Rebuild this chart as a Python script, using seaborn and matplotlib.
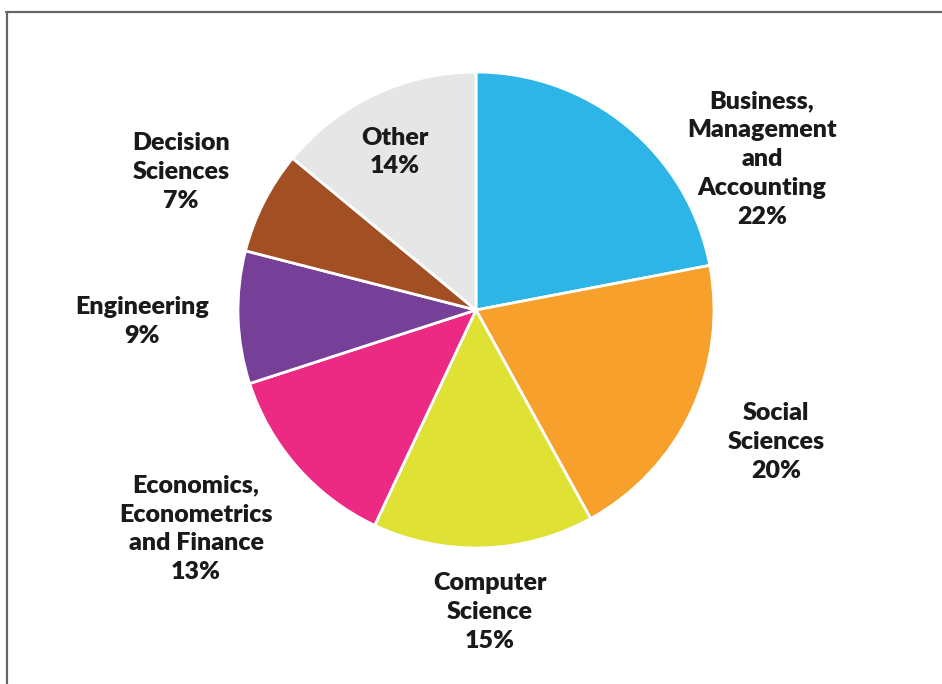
import matplotlib
matplotlib.use("Agg")
import matplotlib.pyplot as plt
from matplotlib.lines import Line2D
import seaborn as sns

categories = ["Business,\nManagement\nand\nAccounting", "Social\nSciences", "Computer\nScience",
              "Economics,\nEconometrics\nand Finance", "Engineering", "Decision\nSciences", "Other"]
shares = [22, 20, 15, 13, 9, 7, 14]
colors = ["#2DB5E8", "#F7A02B", "#DFE134", "#EC2A84", "#774098", "#A25023", "#E6E6E6"]

# label centres in pie-radius units (layout only)
label_pos = [(1.202, 0.634), (1.261, -0.555), (0.059, -1.269), (-1.176, -0.920),
             (-1.403, -0.050), (-1.239, 0.580), (-0.340, 0.664)]

sns.set_theme(style="white")
plt.rcParams['font.family'] = ['Lato', 'DejaVu Sans']

fig = plt.figure(figsize=(9.42, 6.84), dpi=100)
ax = fig.add_axes([0, 0, 1, 1])
palette = sns.color_palette(colors)
ax.pie(shares, colors=palette, startangle=90, counterclock=False, radius=1.0,
       wedgeprops=dict(edgecolor="white", linewidth=2))
ax.set_aspect('auto')
ax.set_xlim(-2.0, 1.958)
ax.set_ylim(-1.5714, 1.3025)
ax.axis('off')

for cat, val, (x, y) in zip(categories, shares, label_pos):
    ax.text(x, y, f"{cat}\n{val}%", ha="center", va="center", fontsize=18,
            fontweight="heavy", color="#1a1a1a", linespacing=1.38)

fig.add_artist(Line2D([6/942, 1], [1 - 11.5/684, 1 - 11.5/684], transform=fig.transFigure,
                      color="#666666", linewidth=1.6))
fig.add_artist(Line2D([6.5/942, 6.5/942], [0, 1 - 11.5/684], transform=fig.transFigure,
                      color="#666666", linewidth=1.6))

fig.savefig("out.png", dpi=100)
